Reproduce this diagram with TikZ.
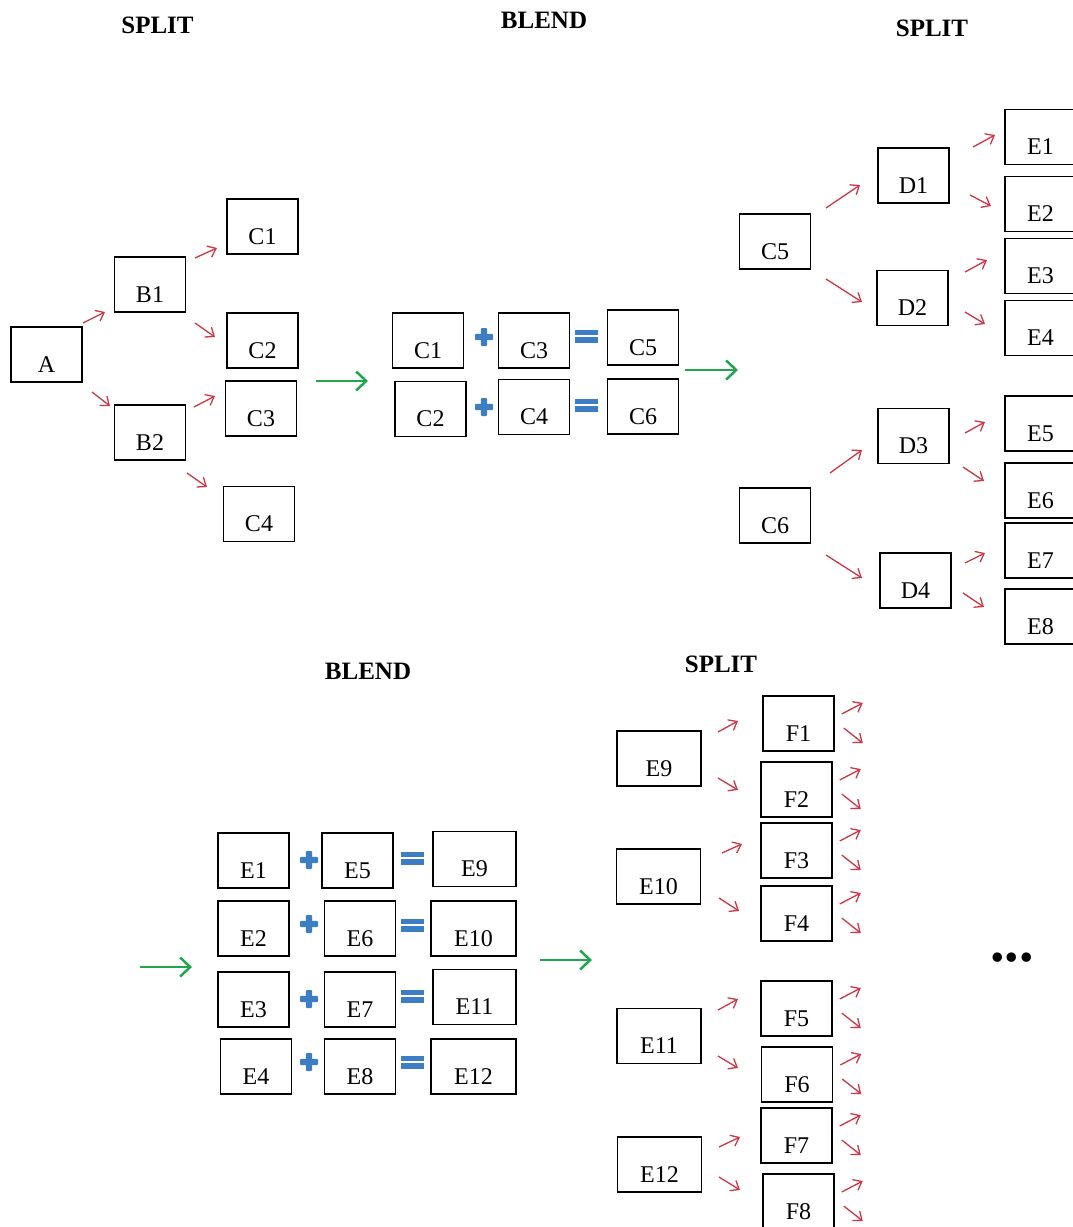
\documentclass[tikz,border=0pt]{standalone}
\usepackage{fontspec}
\setmainfont{Liberation Serif}
\usetikzlibrary{arrows.meta,calc}
\definecolor{arrred}{RGB}{205,55,70}
\definecolor{arrgreen}{RGB}{35,165,80}
\definecolor{opblue}{RGB}{60,125,195}
\tikzset{
 box/.style={draw=black, line width=1.5pt, minimum width=71pt, inner sep=0pt, text height=45pt, text depth=10pt, font=\fontsize{24}{28}\selectfont},
 wbox/.style={box, minimum width=84pt},
 redarr/.style={draw=arrred, line width=1.3pt, -{Straight Barb[length=7.5pt,width=12pt]}},
 greenarr/.style={draw=arrgreen, line width=2.5pt, -{Straight Barb[length=10pt,width=19pt]}},
 title/.style={font=\fontsize{25}{30}\selectfont\bfseries, anchor=base, inner sep=0pt},
 plussign/.pic={\fill[opblue, rounded corners=1pt] (-9,-3.2) rectangle (9,3.2); \fill[opblue, rounded corners=1pt] (-3.2,-9) rectangle (3.2,9);},
 equalsign/.pic={\fill[opblue] (-11.5,-6.5) rectangle (11.5,-0.8); \fill[opblue] (-11.5,0.8) rectangle (11.5,6.5);},
}
\newcommand\rarr[3]{\draw[redarr] ($(#1)+(#2)$) -- ++(#3);}
\newcommand\fanout[1]{\draw[redarr] ($(#1.east)+(7,-9.5)$) -- ++(21,-11); \draw[redarr] ($(#1.east)+(9,4.5)$) -- ++(19,15);}
\begin{document}
\begin{tikzpicture}[x=1pt,y=-1pt]
\useasboundingbox (0,0) rectangle (1073,1227);
\clip (0,0) rectangle (1073,1227);
\fill[white] (0,0) rectangle (1073,1227);

% titles
\node[title] (t1) at (157.5,33) {SPLIT};
\node[title] (t2) at (544,28) {BLEND};
\node[title] (t3) at (932,36) {SPLIT};
\node[title] (t4) at (368,679) {BLEND};
\node[title] (t5) at (721,672) {SPLIT};

% first split
\node[box] (A) at (46.5,354.5) {A};
\node[box] (B1) at (150,284.5) {B1};
\node[box] (B2) at (150,432.5) {B2};
\node[box] (sC1) at (262.5,226.5) {C1};
\node[box] (sC2) at (262.5,340.5) {C2};
\node[box] (sC3) at (261,408.5) {C3};
\node[box] (sC4) at (259,514) {C4};
\rarr{A}{36.5,-31.5}{22,-11}
\rarr{A}{45.5,37.5}{18,14}
\rarr{B1}{45,-26.5}{22,-10}
\rarr{B1}{45,38.5}{20,14}
\rarr{B2}{44,-25.5}{21,-11}
\rarr{B2}{37,40.5}{20,14}

% green arrows
\coordinate (g1) at (316,381);
\coordinate (g2) at (685,370);
\coordinate (g3) at (140,967);
\coordinate (g4) at (540,960);
\draw[greenarr] (g1) -- ++(52,0);
\draw[greenarr] (g2) -- ++(53,0);
\draw[greenarr] (g3) -- ++(52,0);
\draw[greenarr] (g4) -- ++(52,0);

% first blend
\node[box] (bC1) at (428,340.5) {C1};
\node[box] (bC3) at (534,340.5) {C3};
\node[box] (bC5) at (643,337.5) {C5};
\node[box] (bC2) at (430.5,409) {C2};
\node[box] (bC4) at (534,407) {C4};
\node[box] (bC6) at (643,406.5) {C6};
\pic at (484,337) {plussign};
\pic at (484,407) {plussign};
\pic at (586.5,336) {equalsign};
\pic at (586.5,405) {equalsign};

% second split
\node[box] (sC5) at (775,241.5) {C5};
\node[box] (D1) at (913.5,175.5) {D1};
\node[box] (D2) at (912.5,298) {D2};
\node[box] (sC6) at (775,515.5) {C6};
\node[box] (D3) at (913.5,436) {D3};
\node[box] (D4) at (915.5,580.5) {D4};
\node[box] (E1) at (1040.5,137) {E1};
\node[box] (E2) at (1040.5,204) {E2};
\node[box] (E3) at (1040.5,266) {E3};
\node[box] (E4) at (1040.5,328) {E4};
\node[box] (E5) at (1040.5,423.5) {E5};
\node[box] (E6) at (1040.5,490.5) {E6};
\node[box] (E7) at (1040.5,550.5) {E7};
\node[box] (E8) at (1040.5,616.5) {E8};
\rarr{sC5}{51,-33.5}{34,-23}
\rarr{sC5}{51,37.5}{36,23}
\rarr{sC6}{55,-42.5}{32,-23}
\rarr{sC6}{51,39.5}{36,23}
\rarr{D1}{59.5,-28.5}{22,-12}
\rarr{D1}{56.5,19.5}{21,11}
\rarr{D2}{52.5,-26}{22,-12}
\rarr{D2}{52.5,14}{20,12}
\rarr{D3}{51.5,-3}{20,-11}
\rarr{D3}{49.5,31}{21,14}
\rarr{D4}{49.5,-17.5}{20,-10}
\rarr{D4}{47.5,12.5}{21,14}

% second blend
\node[box] (bE1) at (253.5,860.5) {E1};
\node[box] (bE5) at (357.5,860.5) {E5};
\node[wbox, minimum width=83pt] (bE9) at (474.5,859) {E9};
\node[box] (bE2) at (253.5,928.5) {E2};
\node[box] (bE6) at (360,928.5) {E6};
\node[wbox, minimum width=85pt] (bE10) at (473.5,928.5) {E10};
\node[box] (bE3) at (253.5,999.5) {E3};
\node[box] (bE7) at (360,999.5) {E7};
\node[wbox, minimum width=83pt] (bE11) at (474.5,997) {E11};
\node[box] (bE4) at (256,1066.5) {E4};
\node[box] (bE8) at (360,1066.5) {E8};
\node[wbox, minimum width=85pt] (bE12) at (473.5,1066.5) {E12};
\pic at (309,860) {plussign};
\pic at (309,924) {plussign};
\pic at (309,999) {plussign};
\pic at (309,1062) {plussign};
\pic at (412,858) {equalsign};
\pic at (412,925) {equalsign};
\pic at (412,996) {equalsign};
\pic at (412,1062) {equalsign};

% third split
\node[wbox] (sE9) at (659,758.5) {E9};
\node[wbox] (sE10) at (658.5,876.5) {E10};
\node[wbox] (sE11) at (659,1036) {E11};
\node[wbox] (sE12) at (659.5,1164.5) {E12};
\node[box] (F1) at (798.5,723.5) {F1};
\node[box] (F2) at (796.5,789.5) {F2};
\node[box] (F3) at (796.5,850.5) {F3};
\node[box] (F4) at (796.5,913.5) {F4};
\node[box] (F5) at (796.5,1008.5) {F5};
\node[box] (F6) at (797,1074.5) {F6};
\node[box] (F7) at (796.5,1135.5) {F7};
\node[box] (F8) at (798.5,1201.5) {F8};
\rarr{sE9}{59,-26.5}{20,-11}
\rarr{sE9}{59,19.5}{20,12}
\rarr{sE10}{63.5,-23.5}{20,-9}
\rarr{sE10}{60.5,21.5}{20,13}
\rarr{sE11}{59,-26}{20,-11}
\rarr{sE11}{59,20}{20,12}
\rarr{sE12}{59.5,-17.5}{21,-10}
\rarr{sE12}{59.5,12.5}{21,13}
\fanout{F1}\fanout{F2}\fanout{F3}\fanout{F4}
\fanout{F5}\fanout{F6}\fanout{F7}\fanout{F8}

% continuation
\node[font=\fontsize{58}{60}\selectfont\bfseries, anchor=base, inner sep=0pt] (dots) at (1012,961) {...};
\end{tikzpicture}
\end{document}
